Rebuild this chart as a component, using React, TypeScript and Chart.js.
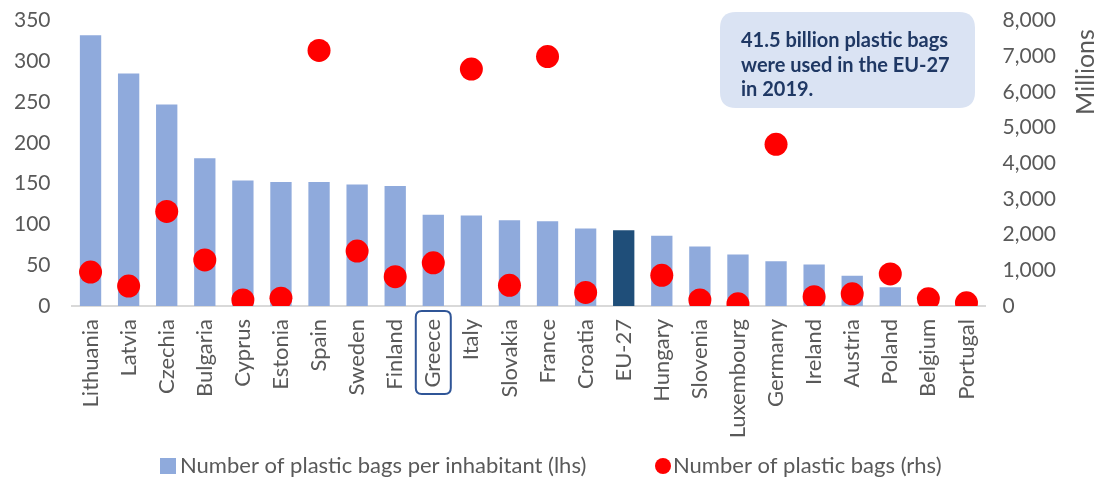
import React, { useEffect, useRef } from "react";
import { Chart, registerables } from "chart.js";

Chart.register(...registerables);

const categories = [
  "Lithuania", "Latvia", "Czechia", "Bulgaria", "Cyprus", "Estonia", "Spain", "Sweden",
  "Finland", "Greece", "Italy", "Slovakia", "France", "Croatia", "EU-27", "Hungary",
  "Slovenia", "Luxembourg", "Germany", "Ireland", "Austria", "Poland", "Belgium", "Portugal",
];

const bagsPerInhabitant: (number | null)[] = [
  332, 285, 247, 181, 154, 152, 152, 149,
  147, 112, 111, 105, 104, 95, 93, 86,
  73, 63, 55, 51, 37, 23, null, null,
];

const bagsMillions: (number | null)[] = [
  950, 560, 2650, 1290, 170, 220, 7160, 1540,
  820, 1210, 6640, 580, 6990, 380, null, 860,
  170, 60, 4530, 260, 340, 900, 200, 90,
];

const leftTicks = { min: 0, max: 350, step: 50 };
const rightTicks = { min: 0, max: 8000, step: 1000 };

const barLabel = "Number of plastic bags per inhabitant (lhs)";
const dotLabel = "Number of plastic bags (rhs)";

const noteLines = ["41.5 billion plastic bags", "were used in the EU-27", "in 2019."];
const rightAxisTitle = "Millions";
const highlightedLabel = "Greece";
const aggregateLabel = "EU-27";

const FONT = "Lato, 'Open Sans', sans-serif";
const BAR = "#8FAADC";
const BAR_DARK = "#1F4E79";
const DOT = "#FF0000";
const TEXT = "#595959";

function roundRect(ctx: CanvasRenderingContext2D, x: number, y: number, w: number, h: number, r: number) {
  ctx.beginPath();
  ctx.moveTo(x + r, y);
  ctx.lineTo(x + w - r, y);
  ctx.quadraticCurveTo(x + w, y, x + w, y + r);
  ctx.lineTo(x + w, y + h - r);
  ctx.quadraticCurveTo(x + w, y + h, x + w - r, y + h);
  ctx.lineTo(x + r, y + h);
  ctx.quadraticCurveTo(x, y + h, x, y + h - r);
  ctx.lineTo(x, y + r);
  ctx.quadraticCurveTo(x, y, x + r, y);
  ctx.closePath();
}

const extrasPlugin = {
  id: "extras",
  afterDraw(chart: any) {
    const ctx: CanvasRenderingContext2D = chart.ctx;
    const area = chart.chartArea;
    const xs = chart.scales.x;
    ctx.save();

    // highlight box around Greece label
    const gi = categories.indexOf(highlightedLabel);
    if (gi >= 0) {
      const gx = xs.getPixelForValue(gi);
      ctx.strokeStyle = "#2F5597";
      ctx.lineWidth = 2;
      roundRect(ctx, gx - 17.5, area.bottom + 5, 35, 83, 6);
      ctx.stroke();
    }

    // note box
    ctx.fillStyle = "#DAE3F3";
    roundRect(ctx, 720, 12, 255, 96, 16);
    ctx.fill();
    ctx.fillStyle = "#1F3864";
    ctx.font = `bold 20px ${FONT}`;
    ctx.textAlign = "left";
    ctx.textBaseline = "middle";
    noteLines.forEach((l, i) => ctx.fillText(l, 741, 41 + i * 24.5));

    // right axis title (reads bottom to top)
    ctx.save();
    ctx.translate(1086, 72);
    ctx.rotate(-Math.PI / 2);
    ctx.fillStyle = TEXT;
    ctx.font = `25px ${FONT}`;
    ctx.textAlign = "center";
    ctx.textBaseline = "middle";
    ctx.fillText(rightAxisTitle, 0, 0);
    ctx.restore();

    // legend
    const ds = chart.data.datasets;
    const barDs = ds.find((d: any) => d.type === "bar");
    const dotDs = ds.find((d: any) => d.type === "line");
    ctx.font = `22px ${FONT}`;
    ctx.textBaseline = "middle";
    ctx.textAlign = "left";
    const ly = 466;
    ctx.fillStyle = BAR;
    ctx.fillRect(160, ly - 8, 16, 16);
    ctx.fillStyle = TEXT;
    ctx.fillText(barDs.label, 180, ly);
    ctx.fillStyle = DOT;
    ctx.beginPath();
    ctx.arc(663, ly, 8, 0, Math.PI * 2);
    ctx.fill();
    ctx.fillStyle = TEXT;
    ctx.fillText(dotDs.label, 673, ly);

    ctx.restore();
  },
};

const noVerticalPad = (s: any) => {
  s.paddingTop = 0;
  s.paddingBottom = 0;
};

export default function App() {
  const ref = useRef<HTMLCanvasElement>(null);
  useEffect(() => {
    if (!ref.current) return;
    const chart = new Chart(ref.current, {
      type: "bar",
      data: {
        labels: categories,
        datasets: [
          {
            type: "line",
            label: dotLabel,
            data: bagsMillions,
            yAxisID: "y1",
            showLine: false,
            pointRadius: 11.5,
            pointHoverRadius: 11.5,
            pointBackgroundColor: DOT,
            pointBorderWidth: 0,
            borderColor: DOT,
            backgroundColor: DOT,
            order: 0,
          } as any,
          {
            type: "bar",
            label: barLabel,
            data: bagsPerInhabitant,
            yAxisID: "y",
            backgroundColor: categories.map((c) => (c === aggregateLabel ? BAR_DARK : BAR)),
            categoryPercentage: 1,
            barPercentage: 0.56,
            order: 1,
          } as any,
        ],
      },
      options: {
        animation: false,
        responsive: false,
        maintainAspectRatio: false,
        layout: { padding: { top: 20.5, bottom: 0, left: 0, right: 0 } },
        plugins: { legend: { display: false }, tooltip: { enabled: false } },
        scales: {
          x: {
            grid: { display: false, drawTicks: false },
            border: { display: true, color: "#D9D9D9", width: 2 },
            ticks: {
              color: TEXT,
              font: { family: FONT, size: 22 },
              maxRotation: 90,
              minRotation: 90,
              autoSkip: false,
              padding: 13,
            },
            afterFit: (s: any) => { s.height = 173; },
          },
          y: {
            position: "left",
            min: leftTicks.min,
            max: leftTicks.max,
            grid: { display: false, drawTicks: false },
            border: { display: false },
            ticks: {
              stepSize: leftTicks.step,
              color: TEXT,
              font: { family: FONT, size: 21 },
              padding: 21,
            },
            afterFit: (s: any) => { s.width = 71.5; noVerticalPad(s); },
          },
          y1: {
            position: "right",
            min: rightTicks.min,
            max: rightTicks.max,
            grid: { display: false, drawTicks: false },
            border: { display: false },
            ticks: {
              stepSize: rightTicks.step,
              color: TEXT,
              font: { family: FONT, size: 21 },
              padding: 17,
              callback: (v: any) => Number(v).toLocaleString("en-US"),
            },
            afterFit: (s: any) => { s.width = 110.5; noVerticalPad(s); },
          },
        },
      },
      plugins: [extrasPlugin],
    });
    return () => chart.destroy();
  }, []);
  return (
    <div style={{ position: "fixed", left: 0, top: 0, width: 1096, height: 479, background: "#fff" }}>
      <canvas ref={ref} width={1096} height={479} style={{ width: 1096, height: 479 }} />
    </div>
  );
}
